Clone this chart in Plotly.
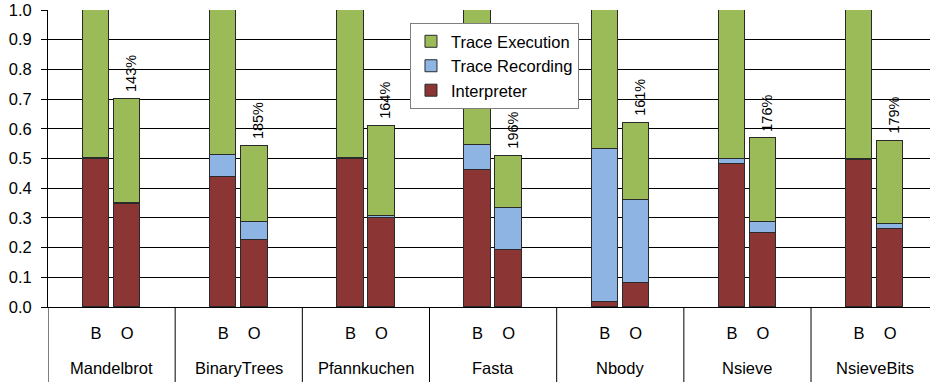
import plotly.graph_objects as go

# Benchmarks and the two configurations shown for each
benchmarks = ["Mandelbrot", "BinaryTrees", "Pfannkuchen", "Fasta", "Nbody", "Nsieve", "NsieveBits"]
configs = ["B", "O"]

# Fraction of baseline run time spent in each phase
interp_b = [0.499, 0.438, 0.500, 0.460, 0.016, 0.483, 0.495]
record_b = [0.003, 0.074, 0.003, 0.086, 0.517, 0.017, 0.005]
exec_b = [0.498, 0.488, 0.497, 0.454, 0.467, 0.500, 0.500]

interp_o = [0.346, 0.226, 0.300, 0.192, 0.081, 0.250, 0.263]
record_o = [0.003, 0.060, 0.006, 0.141, 0.280, 0.035, 0.015]
exec_o = [0.350, 0.255, 0.304, 0.177, 0.260, 0.283, 0.281]

# Speedup of O over B, printed above the O bars
speedup_labels = ["143%", "185%", "164%", "196%", "161%", "176%", "179%"]

FONT = "Liberation Sans, Arial, sans-serif"
GREEN = "#9BBB59"
BLUE = "#8DB4E2"
RED = "#8C3535"
EDGE = "#2a2a2a"

HALF_GAP = 0.122   # offset of each bar from the group centre
BAR_W = 0.208

xb = [i - HALF_GAP for i in range(len(benchmarks))]
xo = [i + HALF_GAP for i in range(len(benchmarks))]


def pairs(b, o):
    xs, ys = [], []
    for i in range(len(benchmarks)):
        xs += [xb[i], xo[i]]
        ys += [b[i], o[i]]
    return xs, ys


fig = go.Figure()
for name, b, o, color in [
    ("Interpreter", interp_b, interp_o, RED),
    ("Trace Recording", record_b, record_o, BLUE),
    ("Trace Execution", exec_b, exec_o, GREEN),
]:
    xs, ys = pairs(b, o)
    fig.add_trace(go.Bar(
        x=xs, y=ys, name=name, width=BAR_W,
        marker=dict(color=color, line=dict(color=EDGE, width=1)),
        hoverinfo="skip",
    ))

tick_x, tick_text = [], []
for i in range(len(benchmarks)):
    tick_x += [xb[i], xo[i]]
    tick_text += configs

annotations = []
# speedup labels above the O bars
for i, lab in enumerate(speedup_labels):
    total = interp_o[i] + record_o[i] + exec_o[i]
    annotations.append(dict(
        x=xo[i], y=total, xref="x", yref="y", text=lab, showarrow=False,
        textangle=-90, xanchor="center", yanchor="bottom", yshift=5, xshift=4,
        font=dict(family=FONT, size=14.5, color="#000"),
    ))
# benchmark names on the second axis row
for i, name in enumerate(benchmarks):
    annotations.append(dict(
        x=i, y=-0.206, xref="x", yref="paper", text=name, showarrow=False,
        xanchor="center", yanchor="middle",
        font=dict(family=FONT, size=16.5, color="#000"),
    ))

# group dividers below the axis
shapes = []
for i in range(len(benchmarks)):
    shapes.append(dict(
        type="line", xref="x", yref="paper", x0=i - 0.5, x1=i - 0.5,
        y0=0, y1=-0.2525, line=dict(color="#000", width=1), layer="above",
    ))

fig.update_layout(
    width=930, height=383,
    margin=dict(l=48, r=0, t=10, b=76),
    paper_bgcolor="white", plot_bgcolor="white",
    barmode="stack", bargap=0,
    font=dict(family=FONT, size=16.5, color="#000"),
    showlegend=True,
    legend=dict(
        x=0.4104, y=0.956, xanchor="left", yanchor="top",
        bgcolor="white", bordercolor="#7f7f7f", borderwidth=1,
        traceorder="reversed", tracegroupgap=0,
        font=dict(family=FONT, size=16.5, color="#000"),
    ),
    xaxis=dict(
        range=[-0.5, -0.5 + 882 / 127.17], showgrid=False, zeroline=False,
        showline=True, linecolor="#000", linewidth=1,
        tickvals=tick_x, ticktext=tick_text, ticks="",
        ticklabelstandoff=11,
        tickfont=dict(family=FONT, size=16.5, color="#000"),
    ),
    yaxis=dict(
        range=[0, 1], dtick=0.1, tickformat=".1f",
        showgrid=True, gridcolor="#000", gridwidth=1, zeroline=False,
        showline=True, linecolor="#000", linewidth=1,
        ticks="outside", ticklen=6, tickcolor="#000", ticklabelstandoff=6,
        tickfont=dict(family=FONT, size=16.5, color="#000"),
    ),
    annotations=annotations, shapes=shapes,
)

fig.write_html("out.html")
